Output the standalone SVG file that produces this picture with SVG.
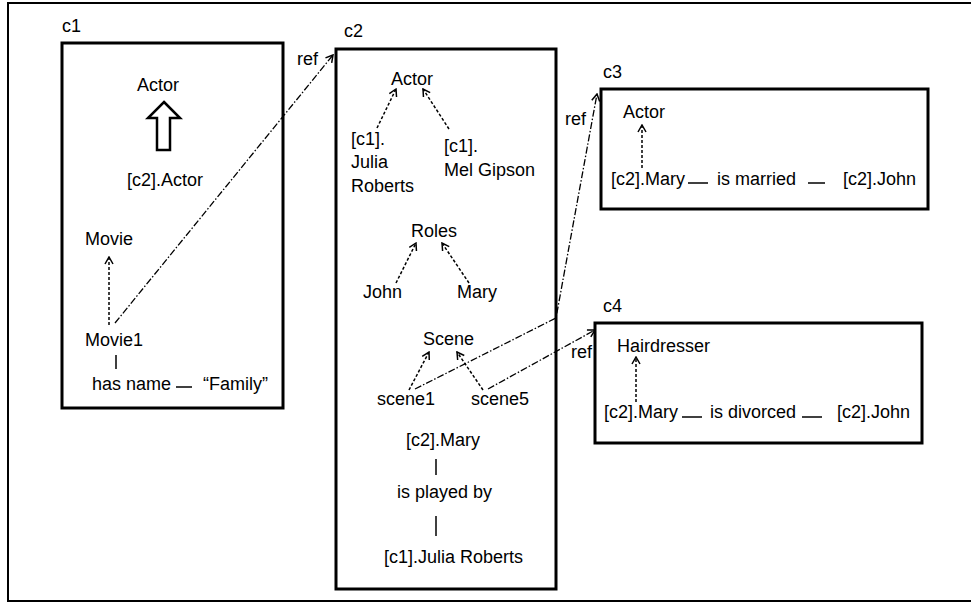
<svg xmlns="http://www.w3.org/2000/svg" width="971" height="603" viewBox="0 0 971 603">
<defs>
<marker id="open" markerWidth="10" markerHeight="10" refX="9" refY="5" orient="auto" markerUnits="userSpaceOnUse">
<path d="M2,1 L9,5 L2,9" fill="none" stroke="#000" stroke-width="1.5"/>
</marker>
</defs>
<style>
text{font-family:"Liberation Sans",Arial,sans-serif;font-size:18px;fill:#000}
.box{fill:none;stroke:#000;stroke-width:3}
.dash{fill:none;stroke:#000;stroke-width:1.5;stroke-dasharray:3 2;marker-end:url(#open)}
.ref{fill:none;stroke:#000;stroke-width:1.3;stroke-dasharray:7 2 1.5 2}
.refa{marker-end:url(#open)}
.ln{stroke:#000;stroke-width:1.5;fill:none}
</style>
<rect x="8" y="3" width="980" height="598" fill="none" stroke="#000" stroke-width="2"/>

<g id="c1">
<rect class="box" x="62" y="43" width="221" height="365"/>
<text x="62" y="32">c1</text>
<text x="137" y="91">Actor</text>
<polygon points="164,102 180,118 170,118 170,150 157,150 157,118 148,118" fill="#fff" stroke="#000" stroke-width="2.5"/>
<text x="127" y="186">[c2].Actor</text>
<text x="85" y="245">Movie</text>
<text x="85" y="346">Movie1</text>
<line class="ln" x1="116" y1="355" x2="116" y2="369" stroke-width="2"/>
<text x="92" y="390">has name</text>
<line class="ln" x1="176" y1="387" x2="192" y2="387"/>
<text x="203" y="390">“Family”</text>
</g>

<g id="c2">
<rect class="box" x="336" y="49" width="220" height="540"/>
<text x="344" y="37">c2</text>
<text x="391" y="85">Actor</text>
<text x="351" y="145">[c1].</text>
<text x="351" y="168">Julia</text>
<text x="351" y="192">Roberts</text>
<text x="444" y="152">[c1].</text>
<text x="444" y="176">Mel Gipson</text>
<text x="411" y="237">Roles</text>
<text x="363" y="298">John</text>
<text x="457" y="298">Mary</text>
<text x="423" y="345">Scene</text>
<text x="377" y="405">scene1</text>
<text x="471" y="405">scene5</text>
<text x="443" y="446" text-anchor="middle">[c2].Mary</text>
<line class="ln" x1="436" y1="459" x2="436" y2="475"/>
<text x="397" y="498">is played by</text>
<line class="ln" x1="436" y1="516" x2="436" y2="536"/>
<text x="384" y="563">[c1].Julia Roberts</text>
</g>

<g id="c3">
<rect class="box" x="601" y="89" width="327" height="120"/>
<text x="603" y="78">c3</text>
<text x="623" y="118">Actor</text>
<text x="611" y="185">[c2].Mary</text>
<line class="ln" x1="688" y1="183" x2="708" y2="183"/>
<text x="717" y="185">is married</text>
<line class="ln" x1="808" y1="183" x2="825" y2="183"/>
<text x="843" y="185">[c2].John</text>
</g>

<g id="c4">
<rect class="box" x="595" y="323" width="327" height="120"/>
<text x="603" y="312">c4</text>
<text x="617" y="352">Hairdresser</text>
<text x="604" y="418">[c2].Mary</text>
<line class="ln" x1="682" y1="417" x2="702" y2="417"/>
<text x="710" y="418">is divorced</text>
<line class="ln" x1="802" y1="417" x2="822" y2="417"/>
<text x="837" y="418">[c2].John</text>
</g>

<g id="connectors">
<line class="dash" x1="109" y1="325" x2="109" y2="257"/>
<line class="dash" x1="377" y1="128" x2="396" y2="89"/>
<line class="dash" x1="449" y1="129" x2="423" y2="89"/>
<line class="dash" x1="396" y1="283" x2="416" y2="243"/>
<line class="dash" x1="469" y1="283" x2="442" y2="243"/>
<line class="dash" x1="409" y1="390" x2="429" y2="352"/>
<line class="dash" x1="483" y1="390" x2="457" y2="352"/>
<line class="dash" x1="642" y1="168" x2="642" y2="125"/>
<line class="dash" x1="636" y1="402" x2="636" y2="357"/>
<path class="ref refa" d="M115,323 L333,55"/>
<path class="ref refa" d="M415,389 L556,318 L597,94"/>
<path class="ref refa" d="M488,389 L595,330"/>
<text x="297" y="65">ref</text>
<text x="565" y="125">ref</text>
<text x="571" y="358">ref</text>
</g>
</svg>
